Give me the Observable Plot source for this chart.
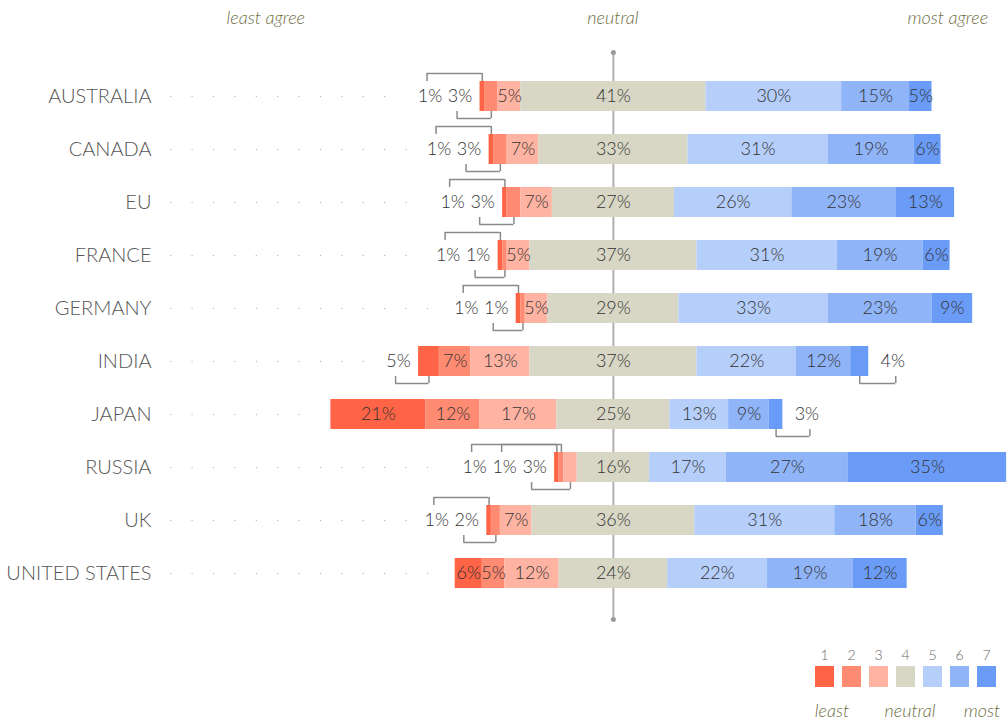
<!DOCTYPE html>
<html>
<head>
<meta charset="utf-8">
<script src="https://cdn.jsdelivr.net/npm/d3@7"></script>
<script src="https://cdn.jsdelivr.net/npm/@observablehq/plot@0.6"></script>
<style>
  body { margin: 0; background: #fff; font-family: Lato, "Open Sans", sans-serif; }
  #wrap { position: relative; width: 1007px; height: 722px; overflow: hidden; }
  .hdr { position: absolute; top: 6px; font-style: italic; font-size: 18px; color: #6e6e44; transform: translateX(-50%); white-space: nowrap; font-weight: 300; }
  #chart { position: absolute; top: 40px; left: 0; }
  #legend { position: absolute; left: 811px; top: 645px; display: flex; }
  .lg { width: 27px; display: flex; flex-direction: column; align-items: center; }
  .lg .n { font-size: 14px; color: #666; height: 21px; line-height: 20px; font-weight: 300; }
  .lg .sw { width: 19px; height: 21px; }
  .lw { position: absolute; top: 699px; font-style: italic; font-size: 18px; color: #6e6e44; transform: translateX(-50%); white-space: nowrap; font-weight: 300; }
</style>
</head>
<body>
<div id="wrap">
  <div id="header"></div>
  <div id="chart"></div>
  <div id="legend"></div>
  <div id="legendWords"></div>
</div>
<script>
const countries = ["AUSTRALIA", "CANADA", "EU", "FRANCE", "GERMANY", "INDIA", "JAPAN", "RUSSIA", "UK", "UNITED STATES"];
const level1 = [1, 1, 1, 1, 1, 4.6, 21, 1, 1, 6];
const level2 = [3, 3, 3, 1, 1, 7, 12, 1, 2, 5];
const level3 = [5, 7, 7, 5, 5, 13, 17, 3, 7, 12];
const level4 = [41, 33, 27, 37, 29, 37, 25, 16, 36, 24];
const level5 = [30, 31, 26, 31, 33, 22, 13, 17, 31, 22];
const level6 = [15, 19, 23, 19, 23, 12, 9, 27, 18, 19];
const level7 = [5, 6, 13, 6, 9, 4, 3, 35, 6, 12];
const levelNames = [1, 2, 3, 4, 5, 6, 7];
const colors = ["#ff6446", "#ff8b73", "#ffb3a2", "#d8d7c5", "#b6cefa", "#8fb4f8", "#6a9cf7"];
const headerWords = ["least agree", "neutral", "most agree"];
const legendWords = ["least", "neutral", "most"];

const levels = [level1, level2, level3, level4, level5, level6, level7];

// layout
const W = 1007, H = 600, ML = 160, MR = 0, MT = 16.8, MB = 28, PAD = 0.436;
const xDomain = [-100.2, 87.2];
const k = (W - ML - MR) / (xDomain[1] - xDomain[0]); // px per percent
const step = (H - MT - MB) / (countries.length + PAD);
const bw = step * (1 - PAD);

const segs = [];
const rows = countries.map((c, i) => {
  const vals = levels.map(l => l[i]);
  let start = -(vals[0] + vals[1] + vals[2] + vals[3] / 2);
  const left = start;
  const s = vals.map((v, j) => {
    const seg = {country: c, level: levelNames[j], value: v, x1: start, x2: start + v, mid: start + v / 2,
                 label: Math.round(v) + "%", outside: v < 5};
    start += v;
    return seg;
  });
  segs.push(...s);
  return {country: c, left, right: start, segs: s};
});

const outLabels = [], brackets = [], leaders = [];
const leaderStart = xDomain[0] + (170.7 - ML) / k;
rows.forEach(r => {
  const leftOut = r.segs.slice(0, 3).filter(s => s.outside);
  leftOut.forEach((s, idx) => {
    const j = leftOut.length - 1 - idx;
    const lx = r.left - (20 + 30 * j) / k;
    outLabels.push({country: r.country, x: lx, label: s.label});
    brackets.push({country: r.country, a: lx - 3 / k, b: s.mid, pos: j === 0 ? "bottom" : "top"});
  });
  const rightOut = r.segs.slice(4).filter(s => s.outside).reverse();
  rightOut.forEach((s, j) => {
    const lx = r.right + (24 + 30 * j) / k;
    outLabels.push({country: r.country, x: lx, label: s.label});
    brackets.push({country: r.country, a: lx + 3 / k, b: s.mid, pos: j === 0 ? "bottom" : "top"});
  });
  const leftmost = leftOut.length ? r.left - (20 + 30 * (leftOut.length - 1) + 10) / k : r.left;
  leaders.push({country: r.country, x1: leaderStart, x2: leftmost - 16 / k});
});

const topBrackets = brackets.filter(b => b.pos === "top");
const bottomBrackets = brackets.filter(b => b.pos === "bottom");
const ticksOf = b => b.flatMap(d => [{country: d.country, x: d.a}, {country: d.country, x: d.b}]);
const bracketStyle = {stroke: "#8a8a8a", strokeWidth: 1.5};

const chart = Plot.plot({
  width: W, height: H,
  marginLeft: ML, marginRight: MR, marginTop: MT, marginBottom: MB,
  style: {fontFamily: "Lato, sans-serif", background: "transparent"},
  x: {domain: xDomain, axis: null},
  y: {domain: countries, padding: PAD, label: null},
  color: {type: "ordinal", domain: levelNames, range: colors},
  marks: [
    Plot.ruleX([0], {stroke: "#b0b0b0", strokeWidth: 2, insetTop: -(MT - 12), insetBottom: -7}),
    Plot.dot([0], {x: d => d, frameAnchor: "top", dy: -(MT - 12), r: 2.5, fill: "#999", stroke: null}),
    Plot.dot([0], {x: d => d, frameAnchor: "bottom", dy: 7, r: 2.5, fill: "#999", stroke: null}),
    Plot.ruleY(leaders, {y: "country", x1: "x1", x2: "x2", stroke: "#bbb", strokeWidth: 1.4,
                         strokeDasharray: "0 21.4", strokeLinecap: "round"}),
    Plot.barX(segs, {y: "country", x1: "x1", x2: "x2", fill: "level"}),
    Plot.text(segs.filter(d => !d.outside), {y: "country", x: "mid", text: "label", fontSize: 18, fontWeight: 300, fill: "#333"}),
    Plot.text(outLabels, {y: "country", x: "x", text: "label", fontSize: 18, fontWeight: 300, fill: "#333"}),
    Plot.ruleY(topBrackets, {y: "country", x1: "a", x2: "b", dy: -(bw / 2 + 8), ...bracketStyle}),
    Plot.tickX(ticksOf(topBrackets), {y: "country", x: "x", insetTop: -8, insetBottom: bw, ...bracketStyle}),
    Plot.ruleY(bottomBrackets, {y: "country", x1: "a", x2: "b", dy: bw / 2 + 7, ...bracketStyle}),
    Plot.tickX(ticksOf(bottomBrackets), {y: "country", x: "x", insetTop: bw, insetBottom: -7, ...bracketStyle}),
    Plot.axisY({tickSize: 0, tickPadding: 9, fontSize: 20, fill: "#555", fontWeight: 300, label: null})
  ]
});
document.getElementById("chart").appendChild(chart);

// header labels positioned with the chart's x scale
const xs = chart.scale("x");
const headerPos = [xs.apply(-76.8), xs.apply(0), xs.apply(74.1)];
const header = document.getElementById("header");
headerWords.forEach((w, i) => {
  const s = document.createElement("span");
  s.className = "hdr"; s.textContent = w; s.style.left = headerPos[i] + "px";
  header.appendChild(s);
});

// legend
const legend = document.getElementById("legend");
levelNames.forEach((n, i) => {
  const d = document.createElement("div");
  d.className = "lg";
  d.innerHTML = `<div class="n">${n}</div><div class="sw" style="background:${colors[i]}"></div>`;
  legend.appendChild(d);
});
const lwPos = [832, 910, 982];
const lw = document.getElementById("legendWords");
legendWords.forEach((w, i) => {
  const s = document.createElement("span");
  s.className = "lw"; s.textContent = w; s.style.left = lwPos[i] + "px";
  lw.appendChild(s);
});
</script>
</body>
</html>
